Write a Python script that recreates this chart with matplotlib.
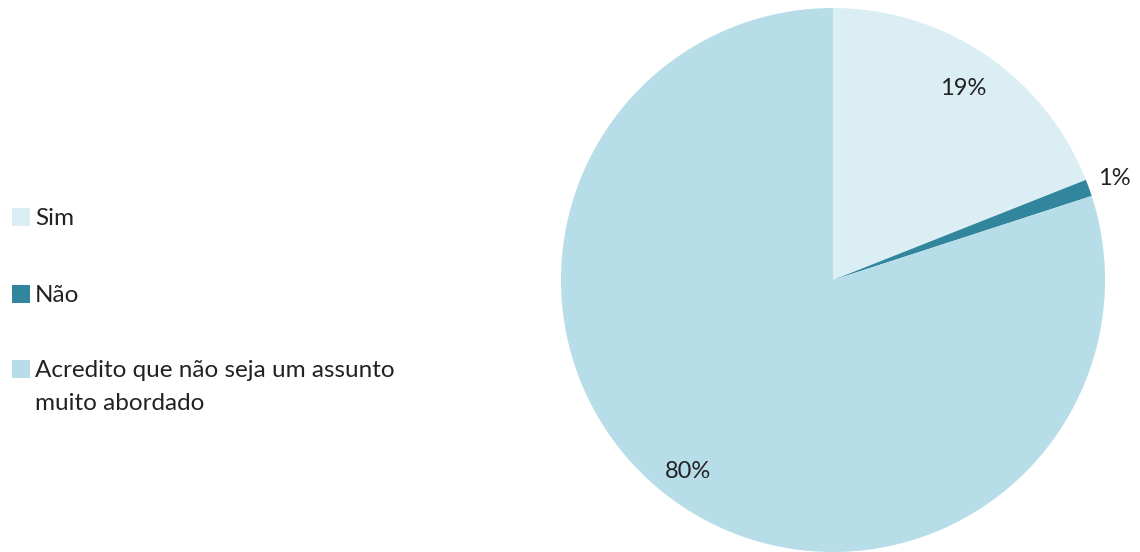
import matplotlib
matplotlib.use("Agg")
import matplotlib.pyplot as plt
from matplotlib.patches import Rectangle
import numpy as np

categories = ["Sim", "Não", "Acredito que não seja um assunto\nmuito abordado"]
values = [19, 1, 80]
pct_labels = ["19%", "1%", "80%"]
colors = ["#DAEEF3", "#31859C", "#B7DDE8"]

plt.rcParams["font.family"] = ["Lato", "DejaVu Sans"]

W, H = 1140, 552
fig = plt.figure(figsize=(W / 100, H / 100), dpi=100)

# pie axes: centre and radius in pixels
cx, cy, r = 833, 280, 272
ax = fig.add_axes([(cx - r) / W, (H - cy - r) / H, 2 * r / W, 2 * r / H])
wedges, _ = ax.pie(values, colors=colors, startangle=90, counterclock=False,
                   radius=1, wedgeprops=dict(linewidth=0))
ax.set_xlim(-1, 1)
ax.set_ylim(-1, 1)
ax.set_aspect("auto")
ax.axis("off")

# percentage labels along each wedge's bisector
label_dist = [0.85, 1.10, 0.87]
label_shift = [0.0, 0.0, -0.02]
for w, txt, d, s in zip(wedges, pct_labels, label_dist, label_shift):
    ang = np.deg2rad((w.theta1 + w.theta2) / 2)
    ax.text(d * np.cos(ang) + s, d * np.sin(ang), txt, ha="center", va="center",
            fontsize=17, color="#222222")

# legend: square swatch beside the first line of each entry
legend_rows = [217, 294, 369]  # first-line centres, pixels from top
sq = 18
for label, col, row in zip(categories, colors, legend_rows):
    fig.patches.append(Rectangle((12 / W, (H - row - sq / 2) / H), sq / W, sq / H,
                                 transform=fig.transFigure, facecolor=col,
                                 edgecolor="none"))
    fig.text(35 / W, (H - row + 9) / H, label, ha="left", va="top",
             fontsize=17.5, color="#222222", linespacing=1.7)

fig.savefig("out.png", dpi=100)
